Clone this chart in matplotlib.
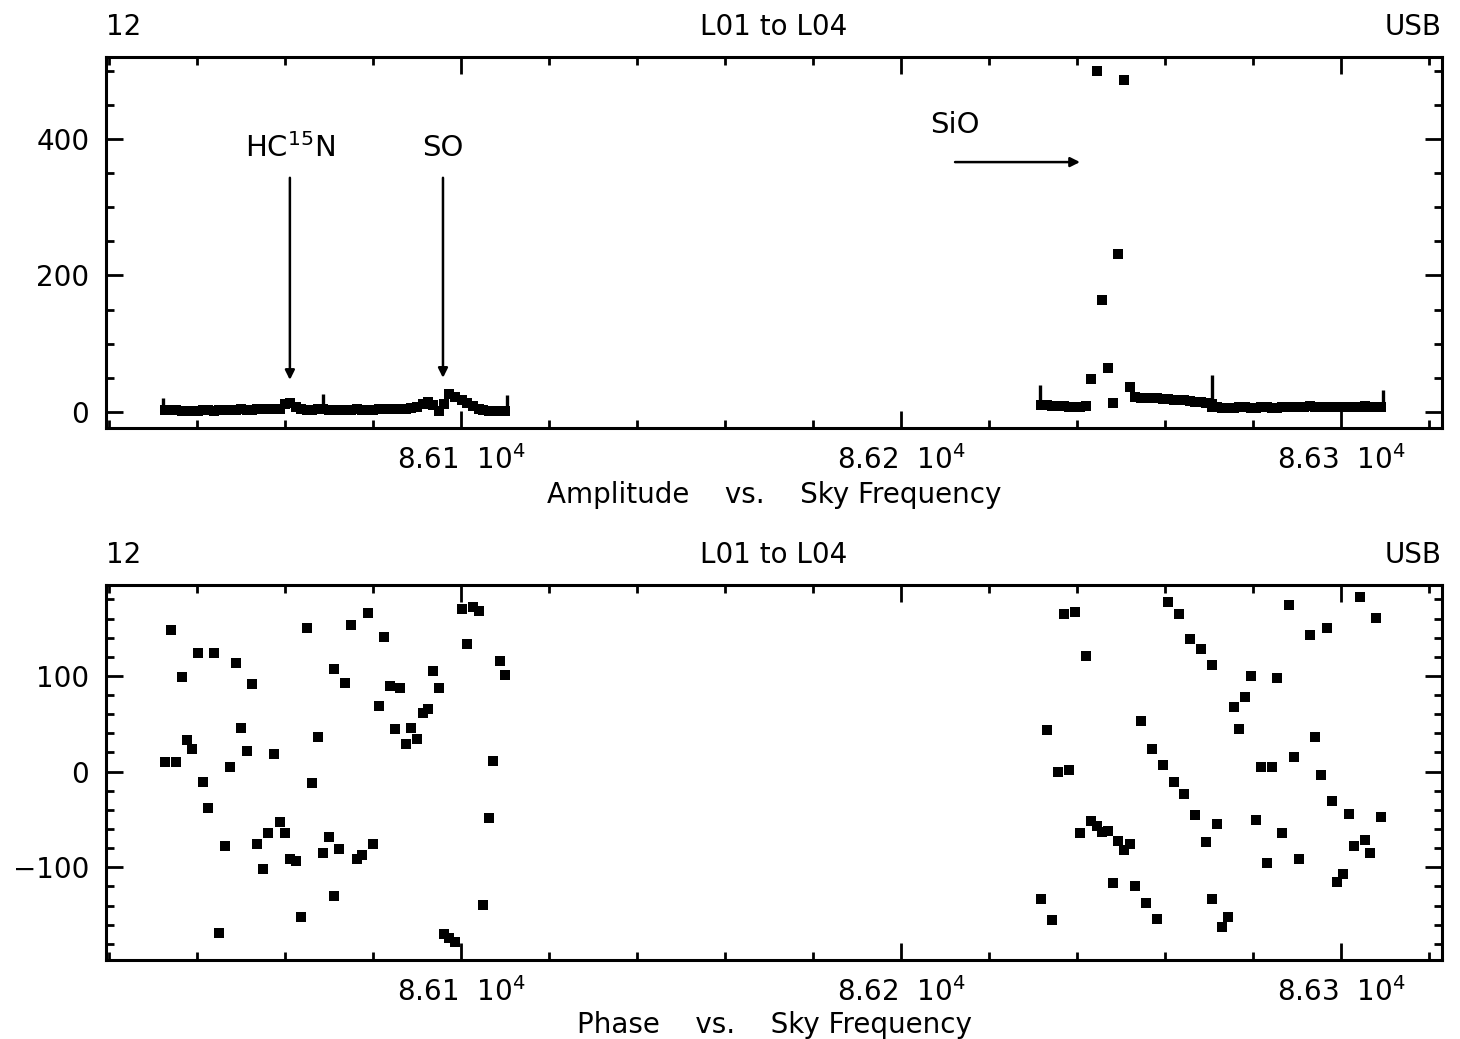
import numpy as np
import matplotlib
matplotlib.use('Agg')
import matplotlib.pyplot as plt
from matplotlib.ticker import MultipleLocator, FuncFormatter

plt.rcParams['font.family'] = ['DejaVu Sans']
plt.rcParams['mathtext.default'] = 'regular'

# channel sky frequencies (MHz) and visibilities, lower group of windows
freq_a = [86032.6, 86034.0, 86035.2, 86036.5, 86037.7, 86038.9, 86040.3, 86041.4,
          86042.6, 86043.9, 86045.1, 86046.3, 86047.5, 86048.9, 86050.0, 86051.3,
          86052.6, 86053.7, 86055.0, 86056.2, 86057.4, 86058.9, 86060.0, 86061.1,
          86062.4, 86063.6, 86064.9, 86066.1, 86067.5, 86068.7, 86070.0, 86071.1,
          86071.2, 86072.3, 86073.7, 86075.0, 86076.3, 86077.6, 86078.8, 86080.1,
          86081.3, 86082.5, 86083.8, 86085.0, 86086.2, 86087.5, 86088.7, 86090.0,
          86091.3, 86092.5, 86093.7, 86095.0, 86096.2, 86097.3, 86098.6, 86100.2,
          86101.3, 86102.7, 86104.0, 86105.0, 86106.3, 86107.3, 86108.9, 86110.1]
amp_a = [3, 3, 3, 2, 2, 2, 2, 3,
         3, 2, 3, 3, 3, 3, 4, 3,
         3, 4, 4, 4, 4, 5, 12, 13,
         7, 4, 3, 3, 4, 4, 3, 3,
         3, 3, 3, 3, 4, 3, 3, 3,
         4, 4, 4, 4, 5, 5, 6, 8,
         11, 14, 10, 2, 12, 27, 22, 17,
         13, 9, 5, 3, 2, 2, 2, 2]
phase_a = [9.9, 147.9, 9.9, 99.1, 33.2, 23.8, 123.5, -11.3,
           -37.8, 124.1, -169.1, -77.8, 5.0, 113.1, 45.5, 21.4,
           91.4, -75.4, -101.8, -64.3, 18.3, -52.8, -64.0, -91.1,
           -93.2, -151.7, 149.6, -11.7, 36.4, -84.8, -68.4, -130.4,
           107.1, -80.7, 92.8, 153.1, -91.1, -87.6, 165.9, -75.8,
           68.8, 140.5, 89.7, 44.7, 87.6, 29.0, 45.8, 33.6,
           60.8, 65.6, 105.0, 87.6, -170.1, -174.3, -178.5, 169.8,
           133.5, 171.6, 168.0, -139.8, -48.9, 10.7, 115.8, 100.5]

# upper group of windows (SiO v=1 region)
freq_b = [86231.8, 86233.3, 86234.4, 86235.8, 86237.1, 86238.3, 86239.6, 86240.8,
          86242.1, 86243.3, 86244.6, 86245.8, 86247.0, 86248.2, 86249.4, 86250.7,
          86252.0, 86253.1, 86254.5, 86255.6, 86257.1, 86258.1, 86259.5, 86260.7,
          86262.0, 86263.3, 86264.4, 86265.8, 86266.9, 86268.2, 86269.4, 86270.6,
          86270.7, 86271.8, 86273.0, 86274.4, 86275.7, 86276.9, 86278.2, 86279.5,
          86280.7, 86281.8, 86283.1, 86284.3, 86285.5, 86286.7, 86288.1, 86289.3,
          86290.4, 86291.6, 86293.0, 86294.2, 86295.5, 86296.8, 86298.0, 86299.1,
          86300.4, 86301.8, 86302.9, 86304.3, 86305.5, 86306.7, 86308.0, 86309.1]
amp_b = [10, 10, 9, 9, 9, 8, 8, 8,
         9, 49, 499, 164, 64, 13, 232, 486,
         37, 22, 21, 21, 20, 20, 19, 19,
         18, 18, 17, 16, 15, 14, 13, 12,
         7, 7, 6, 6, 6, 7, 7, 6,
         6, 7, 7, 6, 6, 7, 7, 7,
         8, 8, 9, 8, 8, 7, 7, 8,
         8, 7, 8, 8, 9, 8, 8, 8]
phase_b = [-132.9, 43.7, -154.9, -0.5, 164.6, 1.9, 166.4, -63.9,
           120.4, -51.7, -57.3, -63.5, -62.2, -116.8, -72.3, -82.0,
           -75.4, -120.0, 53.1, -137.7, 23.8, -154.4, 6.8, 177.4,
           -11.3, 164.6, -23.8, 138.1, -45.1, 127.7, -74.0, -133.5,
           111.3, -54.5, -162.8, -151.7, 67.7, 44.4, 77.8, 99.8,
           -51.0, 5.0, -95.3, 5.0, 98.0, -63.9, 173.7, 15.2,
           -91.1, np.nan, 142.6, 35.7, -3.7, 149.6, -31.1, -115.5,
           -107.1, -44.1, -77.8, 182.0, -71.3, -85.2, 160.4, -47.5]

# spectral window edge markers on the amplitude plot
edge_freq = [86032.3, 86068.7, 86110.4, 86231.6, 86270.7, 86309.5]
edge_lo = [0, 3, 0, 8, 3, 8]
edge_hi = [20, 26, 25, 40, 54, 32]

FS = 20


def freq_fmt(v, pos):
    return '%.2f  10$^4$' % (v / 1e4)


def style_axes(ax, ymaj, ymin):
    ax.set_xlim(86019.3, 86323.0)
    ax.xaxis.set_major_locator(MultipleLocator(100))
    ax.xaxis.set_minor_locator(MultipleLocator(20))
    ax.xaxis.set_major_formatter(FuncFormatter(freq_fmt))
    ax.yaxis.set_major_locator(MultipleLocator(ymaj))
    ax.yaxis.set_minor_locator(MultipleLocator(ymin))
    ax.tick_params(which='both', direction='in', top=True, right=True,
                   width=2, labelsize=FS)
    ax.tick_params(which='major', length=12)
    ax.tick_params(which='minor', length=6)
    ax.tick_params(axis='y', pad=12)
    ax.tick_params(axis='x', pad=12)
    for s in ax.spines.values():
        s.set_linewidth(2.2)


def header(ax):
    ax.set_title('12', loc='left', fontsize=FS, pad=16)
    ax.set_title('L01 to L04', loc='center', fontsize=FS, pad=16)
    ax.set_title('USB', loc='right', fontsize=FS, pad=16)


fig = plt.figure(figsize=(14.6, 10.39), dpi=100)
ax1 = fig.add_axes([0.0726, 0.5881, 0.9151, 0.3571])
ax2 = fig.add_axes([0.0726, 0.0760, 0.9151, 0.3609])

# amplitude
for f, a in [(freq_a, amp_a), (freq_b, amp_b)]:
    ax1.plot(f, a, 's', color='black', markersize=6.5, markeredgewidth=0)
ax1.vlines(edge_freq, edge_lo, edge_hi, color='black', linewidth=2.4)
ax1.set_ylim(-23.4, 520)
style_axes(ax1, 200, 50)
header(ax1)
ax1.set_xlabel('Amplitude    vs.    Sky Frequency', fontsize=FS, labelpad=5)

arrow = dict(arrowstyle='-|>', color='black', lw=1.8, mutation_scale=14,
             shrinkA=0, shrinkB=0)
ax1.annotate('', xy=(86061.1, 47), xytext=(86061.1, 343), arrowprops=arrow)
ax1.annotate('', xy=(86095.9, 50), xytext=(86095.9, 343), arrowprops=arrow)
ax1.annotate('', xy=(86240.7, 366), xytext=(86212.3, 366), arrowprops=arrow)
ax1.text(86061.1, 387, 'HC$^{15}$N', fontsize=21, ha='center', va='center')
ax1.text(86095.9, 387, 'SO', fontsize=21, ha='center', va='center')
ax1.text(86212.3, 420, 'SiO', fontsize=21, ha='center', va='center')

# phase
for f, p in [(freq_a, phase_a), (freq_b, phase_b)]:
    ax2.plot(f, p, 's', color='black', markersize=6.5, markeredgewidth=0)
ax2.set_ylim(-197, 195)
style_axes(ax2, 100, 20)
header(ax2)
ax2.set_xlabel('Phase    vs.    Sky Frequency', fontsize=FS, labelpad=3)

fig.savefig('out.png', dpi=100)
